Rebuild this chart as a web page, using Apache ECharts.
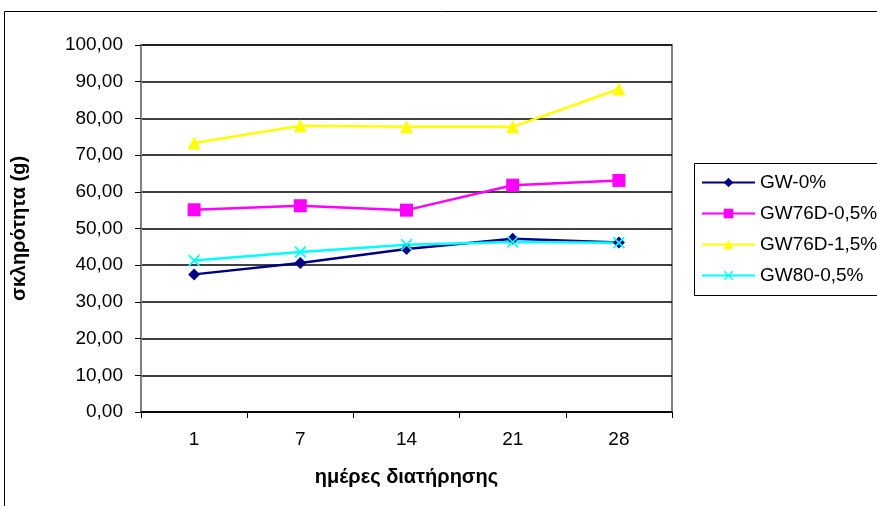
<!DOCTYPE html>
<html>
<head>
<meta charset="utf-8">
<script src="https://cdn.jsdelivr.net/npm/echarts@6/dist/echarts.min.js"></script>
<style>
  html, body { margin: 0; padding: 0; background: #fff; }
  #chart { width: 877px; height: 506px; }
</style>
</head>
<body>
<div id="chart"></div>
<script>
// Storage days (category axis)
const days = ['1', '7', '14', '21', '28'];

// Hardness values per formulation
const gw0 = [37.5, 40.6, 44.4, 47.2, 46.2];
const gw76d05 = [55.1, 56.2, 55.0, 61.8, 63.1];
const gw76d15 = [73.3, 78.0, 77.7, 77.7, 88.0];
const gw80_05 = [41.3, 43.6, 45.6, 46.3, 46.1];

const seriesNames = ['GW-0%', 'GW76D-0,5%', 'GW76D-1,5%', 'GW80-0,5%'];

const FONT = '"Liberation Sans", Arial, sans-serif';
const xMark = 'path://M0,1L1,0L5,4L9,0L10,1L6,5L10,9L9,10L5,6L1,10L0,9L4,5Z';

const chart = echarts.init(document.getElementById('chart'), null, { renderer: 'canvas' });

function lineSeries(name, data, color, symbol, size) {
  return {
    name: name,
    type: 'line',
    data: data,
    symbol: symbol,
    symbolSize: size,
    showAllSymbol: true,
    lineStyle: { color: color, width: 2.5 },
    itemStyle: { color: color, borderColor: color, borderWidth: 0 },
    emphasis: { disabled: true },
    animation: false
  };
}

chart.setOption({
  animation: false,
  backgroundColor: '#ffffff',
  graphic: [
    {
      type: 'rect',
      shape: { x: 4.5, y: 11.5, width: 1000, height: 1000 },
      style: { fill: 'none', stroke: '#000', lineWidth: 1 },
      z: -10
    },
    {
      type: 'rect',
      shape: { x: 694.5, y: 163.5, width: 300, height: 132 },
      style: { fill: '#fff', stroke: '#000', lineWidth: 1 },
      z: 0
    }
  ],
  grid: {
    left: 141, top: 45, width: 531, height: 367,
    show: true,
    borderColor: '#808080',
    borderWidth: 2,
    backgroundColor: 'transparent'
  },
  legend: {
    orient: 'vertical',
    left: 696,
    top: 168,
    itemWidth: 53,
    itemHeight: 12,
    itemGap: 12,
    data: seriesNames,
    textStyle: { fontFamily: FONT, fontSize: 19, color: '#000' },
    selectedMode: false,
    z: 5
  },
  xAxis: {
    type: 'category',
    data: days,
    boundaryGap: true,
    name: 'ημέρες διατήρησης',
    nameLocation: 'middle',
    nameGap: 55,
    nameTextStyle: { fontFamily: FONT, fontSize: 20, fontWeight: 'bold', color: '#000' },
    axisLine: { show: true, lineStyle: { color: '#000', width: 1.5 } },
    axisTick: { show: true, alignWithLabel: false, length: 6, lineStyle: { color: '#000' } },
    axisLabel: { fontFamily: FONT, fontSize: 19, color: '#000', margin: 18 },
    splitLine: { show: false }
  },
  yAxis: {
    type: 'value',
    min: 0, max: 100, interval: 10,
    name: 'σκληρότητα (g)',
    nameLocation: 'middle',
    nameGap: 112,
    nameRotate: 90,
    nameTextStyle: { fontFamily: FONT, fontSize: 20, fontWeight: 'bold', color: '#000' },
    axisLine: { show: true, lineStyle: { color: '#808080', width: 2 } },
    axisTick: { show: true, inside: false, length: 6, lineStyle: { color: '#000' } },
    axisLabel: {
      fontFamily: FONT, fontSize: 19, color: '#000', margin: 18,
      formatter: v => v.toFixed(2).replace('.', ',')
    },
    splitLine: { show: true, lineStyle: { color: '#000', width: 1.5 } }
  },
  series: [
    lineSeries(seriesNames[0], gw0, '#000080', 'diamond', 12),
    lineSeries(seriesNames[1], gw76d05, '#FF00FF', 'rect', 13),
    lineSeries(seriesNames[2], gw76d15, '#FFFF00', 'triangle', 13),
    lineSeries(seriesNames[3], gw80_05, '#00FFFF', xMark, 12)
  ]
});
</script>
</body>
</html>
